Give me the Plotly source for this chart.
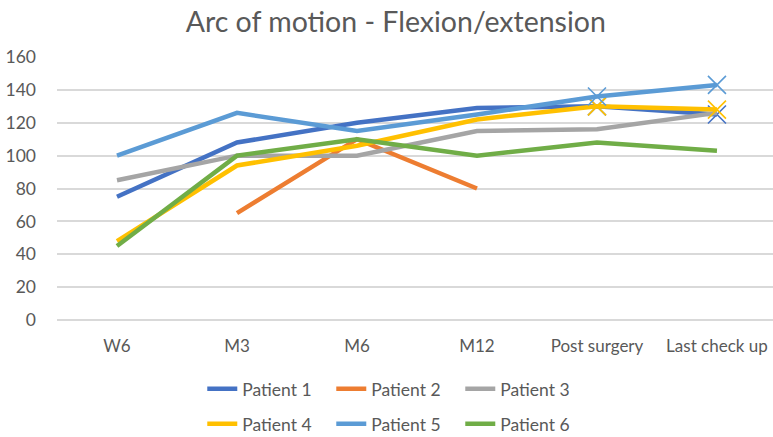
import plotly.graph_objects as go

categories = ["W6", "M3", "M6", "M12", "Post surgery", "Last check up"]
patient1 = [75, 108, 120, 129, 130, 125]
patient2 = [None, 65, 110, 80, None, None]
patient3 = [85, 100, 100, 115, 116, 126]
patient4 = [48, 94, 106, 122, 130, 128]
patient5 = [100, 126, 115, 125, 136, 143]
patient6 = [45, 100, 110, 100, 108, 103]
names = ["Patient 1", "Patient 2", "Patient 3", "Patient 4", "Patient 5", "Patient 6"]
colors = ["#4472C4", "#ED7D31", "#A5A5A5", "#FFC000", "#5B9BD5", "#70AD47"]
series = [patient1, patient2, patient3, patient4, patient5, patient6]
marked = [0, 3, 4]  # series with X markers at the last two time points

FONT = "Lato"
fig = go.Figure()
for i, (nm, vals, col) in enumerate(zip(names, series, colors)):
    fig.add_trace(go.Scatter(
        x=categories, y=vals, name=nm, mode="lines",
        line=dict(color=col, width=4.5),
        legend="legend" if i < 3 else "legend2",
        connectgaps=False,
    ))
    if i in marked:
        fig.add_trace(go.Scatter(
            x=categories[4:], y=vals[4:], mode="markers", showlegend=False,
            marker=dict(symbol="x-thin-open", size=18, color=col,
                        line=dict(color=col, width=1.6)),
            hoverinfo="skip",
        ))

grid = "#D9D9D9"
legend_common = dict(orientation="h", xref="container", yref="container", x=0.512,
                     xanchor="center", yanchor="middle",
                     font=dict(family=FONT, size=17.5, color="#595959"),
                     entrywidth=84, entrywidthmode="pixels", bgcolor="rgba(0,0,0,0)",
                     tracegroupgap=0)
fig.update_layout(
    width=773, height=437,
    margin=dict(l=57, r=0, t=57, b=117, autoexpand=False),
    plot_bgcolor="white", paper_bgcolor="white",
    title=dict(text="Arc of motion - Flexion/extension", x=0.512, xanchor="center",
               y=0.95, yanchor="middle", yref="container",
               font=dict(family=FONT, size=28.5, color="#595959")),
    xaxis=dict(type="category", range=[-0.5, 5.467], showgrid=False, showline=False,
               ticks="", tickfont=dict(family=FONT, size=17, color="#595959"),
               ticklabelstandoff=14),
    yaxis=dict(range=[0, 160], dtick=20, showgrid=True, gridcolor=grid, gridwidth=1.5,
               zeroline=True, zerolinecolor=grid, zerolinewidth=1.5, showline=False,
               ticks="", tickfont=dict(family=FONT, size=17.5, color="#595959"),
               ticklabelstandoff=20),
    legend=dict(legend_common, y=0.11),
    legend2=dict(legend_common, y=0.03),
    showlegend=True,
)
fig.write_html("out.html", config={"displayModeBar": False},
               post_script="document.body.style.margin='0';")
